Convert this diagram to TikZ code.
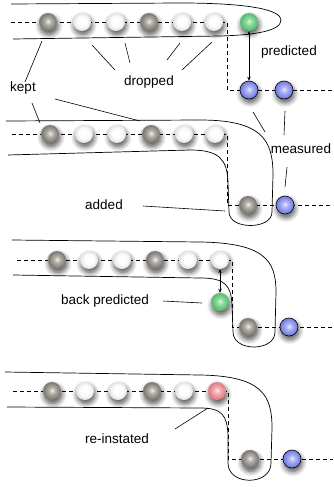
\documentclass[tikz,border=0pt]{standalone}
\usepackage{fontspec}
\setmainfont{Liberation Sans}
\usetikzlibrary{shadows.blur,arrows.meta}
\definecolor{gA}{RGB}{240,240,235}
\definecolor{gB}{RGB}{178,176,168}
\definecolor{gC}{RGB}{128,126,118}
\definecolor{wA}{RGB}{255,255,255}
\definecolor{wB}{RGB}{252,252,252}
\definecolor{wC}{RGB}{228,228,228}
\definecolor{nA}{RGB}{215,245,222}
\definecolor{nB}{RGB}{140,220,158}
\definecolor{nC}{RGB}{95,190,118}
\definecolor{uA}{RGB}{230,232,255}
\definecolor{uB}{RGB}{170,178,245}
\definecolor{uC}{RGB}{120,130,225}
\definecolor{pA}{RGB}{255,232,232}
\definecolor{pB}{RGB}{245,175,178}
\definecolor{pC}{RGB}{225,130,135}
\pgfdeclareradialshading{shgrey}{\pgfpoint{0bp}{2bp}}{color(0bp)=(gA); color(9bp)=(gB); color(22bp)=(gC); color(50bp)=(gC)}
\pgfdeclareradialshading{shwhite}{\pgfpoint{0bp}{2bp}}{color(0bp)=(wA); color(14bp)=(wB); color(24bp)=(wC); color(50bp)=(wC)}
\pgfdeclareradialshading{shgreen}{\pgfpoint{0bp}{2bp}}{color(0bp)=(nA); color(9bp)=(nB); color(22bp)=(nC); color(50bp)=(nC)}
\pgfdeclareradialshading{shblue}{\pgfpoint{0bp}{2bp}}{color(0bp)=(uA); color(9bp)=(uB); color(22bp)=(uC); color(50bp)=(uC)}
\pgfdeclareradialshading{shpink}{\pgfpoint{0bp}{2bp}}{color(0bp)=(pA); color(9bp)=(pB); color(22bp)=(pC); color(50bp)=(pC)}
\tikzset{
 ball/.style={circle, minimum size=18pt, inner sep=0pt,
   blur shadow={shadow xshift=1pt, shadow yshift=-3.5pt, shadow blur steps=8, shadow blur radius=5pt, shadow opacity=70}},
 kball/.style={ball, shading=shgrey},
 wball/.style={ball, shading=shwhite},
 gball/.style={ball, shading=shgreen},
 bball/.style={ball, shading=shblue, draw=black, line width=0.6pt},
 pball/.style={ball, shading=shpink},
 trail/.style={dash pattern=on 4pt off 3pt, line width=0.6pt},
 outline/.style={line width=0.7pt},
 lbl/.style={font=\fontsize{13.5}{16}\selectfont, inner sep=1pt},
 pointer/.style={line width=0.6pt},
 dbl/.style={{Stealth[length=4pt,width=3.5pt]}-{Stealth[length=4pt,width=3.5pt]}, line width=0.7pt},
}
\begin{document}
\begin{tikzpicture}[x=1pt,y=-1pt]
\useasboundingbox (0,0) rectangle (333,487);
% ---------- panel 1
\coordinate (as) at (11,22);
\coordinate (ac1) at (227,22);
\coordinate (ac2) at (227,90);
\coordinate (ae) at (333,90);
\draw[trail] (as) -- (ac1) -- (ac2) -- (ae);
\draw[outline] (11,4) -- (180,3) .. controls (250,3) and (281,10) .. (281,20) .. controls (281,31) and (255,35) .. (220,36) -- (13,39);
\node[kball] (a1) at (48,22) {};
\node[wball] (a2) at (82,22) {};
\node[wball] (a3) at (116,22) {};
\node[kball] (a4) at (149,22) {};
\node[wball] (a5) at (182,22) {};
\node[wball] (a6) at (214,22) {};
\node[gball] (ag) at (249,22) {};
\node[bball] (am1) at (249,90) {};
\node[bball] (am2) at (284,90) {};
\draw[dbl] (ag.south) -- (am1.north);
\node[lbl] (pred) at (289,52) {predicted};
\node[lbl] (kept) at (23,88) {kept};
\node[lbl] (drop) at (149,82) {dropped};
\node[lbl] (meas) at (301,149) {measured};
% kept pointers
\coordinate (k1a) at (25,82); \coordinate (k1b) at (42,41);
\coordinate (k2a) at (32,103); \coordinate (k2b) at (40,123);
\coordinate (k3a) at (55,99); \coordinate (k3b) at (140,121);
\draw[pointer] (k1a) -- (k1b);
\draw[pointer] (k2a) -- (k2b);
\draw[pointer] (k3a) -- (k3b);
% dropped pointers
\coordinate (d1a) at (115,70); \coordinate (d1b) at (92,45);
\coordinate (d2a) at (130,63); \coordinate (d2b) at (125,43);
\coordinate (d3a) at (167,60); \coordinate (d3b) at (180,43);
\coordinate (d4a) at (182,70); \coordinate (d4b) at (212,42);
\draw[pointer] (d1a) -- (d1b);
\draw[pointer] (d2a) -- (d2b);
\draw[pointer] (d3a) -- (d3b);
\draw[pointer] (d4a) -- (d4b);
% measured pointers
\coordinate (m1a) at (253,112); \coordinate (m1b) at (265,132);
\coordinate (m2a) at (285,111); \coordinate (m2b) at (284,135);
\coordinate (m3a) at (287,167); \coordinate (m3b) at (285,187);
\draw[pointer] (m1a) -- (m1b);
\draw[pointer] (m2a) -- (m2b);
\draw[pointer] (m3a) -- (m3b);
% ---------- panel 2
\coordinate (bs) at (12,134);
\coordinate (bc1) at (227,134);
\coordinate (bc2) at (227,205);
\coordinate (be) at (333,205);
\draw[trail] (bs) -- (bc1) -- (bc2) -- (be);
\draw[outline] (6,121) -- (200,120) .. controls (262,120) and (273,140) .. (273,175) -- (272,212) .. controls (272,230) and (229,230) .. (229,212) -- (228,182) .. controls (227,160) and (220,150) .. (190,150) -- (8,155);
\node[kball] (b1) at (50,134) {};
\node[wball] (b2) at (84,134) {};
\node[wball] (b3) at (117,134) {};
\node[kball] (b4) at (151,134) {};
\node[wball] (b5) at (184,134) {};
\node[wball] (b6) at (215,134) {};
\node[kball] (bk) at (248,205) {};
\node[bball] (bm) at (285,205) {};
\node[lbl] (add) at (104,205) {added};
\coordinate (ada) at (143,206); \coordinate (adb) at (225,211);
\draw[pointer] (ada) -- (adb);
% ---------- panel 3
\coordinate (cs) at (17,260);
\coordinate (cc1) at (232,260);
\coordinate (cc2) at (232,327);
\coordinate (ce) at (333,327);
\draw[trail] (cs) -- (cc1) -- (cc2) -- (ce);
\draw[outline] (12,240) -- (200,242) .. controls (264,243) and (276,260) .. (276,292) -- (275,332) .. controls (275,352) and (233,352) .. (233,332) -- (232,305) .. controls (231,285) and (225,278) .. (200,278) -- (13,275);
\node[kball] (c1) at (57,260) {};
\node[wball] (c2) at (89,260) {};
\node[wball] (c3) at (122,260) {};
\node[kball] (c4) at (155,260) {};
\node[wball] (c5) at (188,260) {};
\node[wball] (c6) at (220,260) {};
\node[gball] (cg) at (220,302) {};
\node[kball] (ck) at (248,327) {};
\node[bball] (cm) at (289,327) {};
\draw[dbl] (c6.south) -- (cg.north);
\node[lbl] (back) at (105,301) {back predicted};
\coordinate (bpa) at (163,301); \coordinate (bpb) at (202,303);
\draw[pointer] (bpa) -- (bpb);
% ---------- panel 4
\coordinate (es) at (13,391);
\coordinate (ec1) at (228,391);
\coordinate (ec2) at (228,459);
\coordinate (ee) at (333,459);
\draw[trail] (es) -- (ec1) -- (ec2) -- (ee);
\draw[outline] (5,372) -- (200,375) .. controls (262,376) and (272,395) .. (272,428) -- (271,463) .. controls (271,486) and (228,486) .. (228,463) -- (228,435) .. controls (227,415) and (222,408) .. (200,408) -- (7,407);
\node[kball] (e1) at (52,391) {};
\node[wball] (e2) at (85,391) {};
\node[wball] (e3) at (118,391) {};
\node[kball] (e4) at (152,391) {};
\node[wball] (e5) at (184,391) {};
\node[pball] (ep) at (217,391) {};
\node[kball] (ek) at (250,459) {};
\node[bball] (em) at (292,459) {};
\node[lbl] (rein) at (117,439) {re-instated};
\coordinate (ria) at (175,429); \coordinate (rib) at (208,408);
\draw[pointer] (ria) -- (rib);
\end{tikzpicture}
\end{document}
